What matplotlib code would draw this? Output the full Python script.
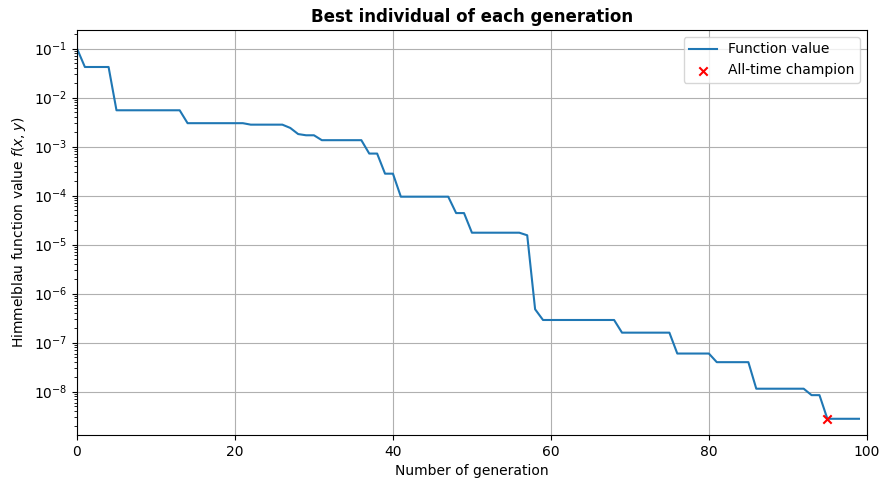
import numpy as np
import matplotlib.pyplot as plt

# (first generation, value) steps
step_start = [0, 1, 5, 14, 22, 27, 28, 29, 31, 37, 39, 41, 48, 50, 57, 58, 59, 69, 76, 81, 86, 93, 95]
step_value = [1.0e-1, 4.2e-2, 5.5e-3, 3.0e-3, 2.8e-3, 2.4e-3, 1.8e-3, 1.7e-3, 1.35e-3, 7.2e-4,
              2.8e-4, 9.5e-5, 4.4e-5, 1.75e-5, 1.55e-5, 4.8e-7, 2.9e-7, 1.6e-7, 6.0e-8, 4.0e-8,
              1.15e-8, 8.5e-9, 2.8e-9]
n_gen = 100

generations = np.arange(n_gen)
values = np.empty(n_gen)
for i, start in enumerate(step_start):
    values[start:] = step_value[i]

champ_gen = 95
champ_val = 2.8e-9

fig, ax = plt.subplots(figsize=(8.9, 4.9), dpi=100)
ax.plot(generations, values, label='Function value')
ax.scatter([champ_gen], [champ_val], color='red', marker='x', label='All-time champion', zorder=3)
ax.set_yscale('log')
ax.set_xlim(0, 100)
ax.set_ylim(1.3e-9, 0.24)
ax.set_xlabel('Number of generation')
ax.set_ylabel('Himmelblau function value $f(x, y)$')
ax.set_title('Best individual of each generation', fontweight='bold')
ax.grid(True)
ax.legend(loc='upper right')
fig.subplots_adjust(left=0.0865, right=0.974, top=0.939, bottom=0.112)
plt.savefig('out.png')
